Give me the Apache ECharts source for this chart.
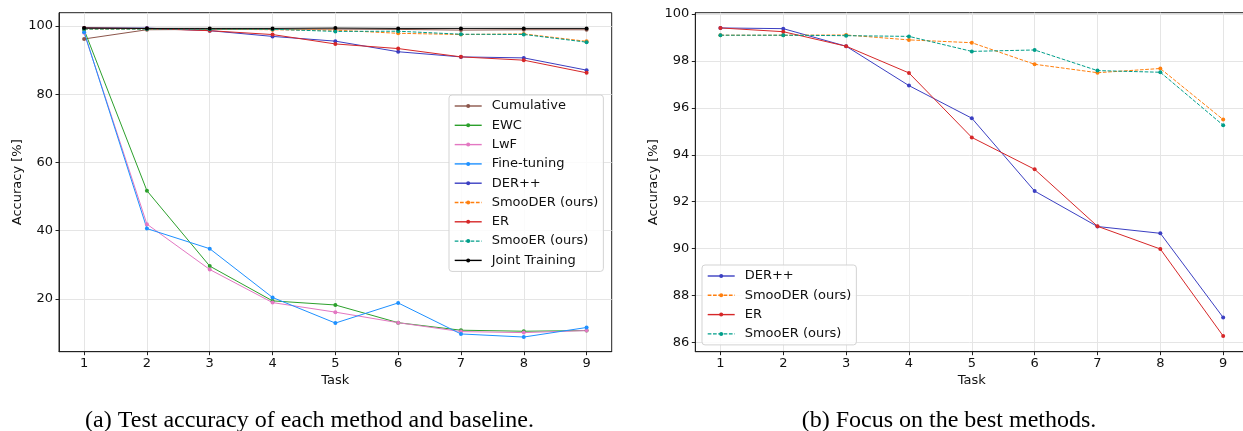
<!DOCTYPE html>
<html>
<head>
<meta charset="utf-8">
<script src="https://cdn.jsdelivr.net/npm/echarts@6/dist/echarts.min.js"></script>
<style>html,body{margin:0;padding:0;background:#fff;}#c{width:1243px;height:431px;}</style>
</head>
<body>
<div id="c"></div>
<script>
const tasks = [1, 2, 3, 4, 5, 6, 7, 8, 9];
const cumulative = [96.2, 98.9, 99.0, 99.0, 99.1, 99.0, 98.8, 98.9, 98.9];
const ewc = [98.9, 51.7, 29.6, 19.4, 18.2, 13.0, 10.8, 10.5, 10.7];
const lwf = [98.0, 41.9, 28.6, 18.9, 16.1, 13.0, 10.4, 10.1, 10.7];
const fineTuning = [98.2, 40.6, 34.7, 20.4, 12.9, 18.8, 9.7, 8.8, 11.6];
const derpp = [99.41, 99.38, 98.63, 96.95, 95.56, 92.45, 90.94, 90.65, 87.06];
const smooder = [99.10, 99.10, 99.11, 98.90, 98.78, 97.86, 97.50, 97.68, 95.50];
const er = [99.41, 99.25, 98.63, 97.49, 94.74, 93.38, 90.95, 89.98, 86.27];
const smooer = [99.10, 99.10, 99.08, 99.05, 98.41, 98.47, 97.59, 97.52, 95.26];
const joint = [99.4, 99.3, 99.3, 99.3, 99.4, 99.3, 99.3, 99.3, 99.3];

const leftYTicks = [20, 40, 60, 80, 100];
const rightYTicks = [86, 88, 90, 92, 94, 96, 98, 100];
const xTicks = tasks;

const colors = {
  'Cumulative': '#8c564b',
  'EWC': '#2ca02c',
  'LwF': '#e377c2',
  'Fine-tuning': '#1e90ff',
  'DER++': '#3b3fc2',
  'SmooDER (ours)': '#ff7f0e',
  'ER': '#d62728',
  'SmooER (ours)': '#009e8a',
  'Joint Training': '#000000'
};
const dashed = { 'SmooDER (ours)': true, 'SmooER (ours)': true };

const FONT = 'DejaVu Sans';
const AX = '#222';

function pts(arr) { return tasks.map((t, i) => [t, arr[i]]); }

function mkSeries(name, arr, idx) {
  return {
    type: 'line', name: name, xAxisIndex: idx, yAxisIndex: idx,
    data: pts(arr), symbol: 'circle', symbolSize: 4, showSymbol: true,
    itemStyle: { color: colors[name] },
    lineStyle: { color: colors[name], width: 1, type: dashed[name] ? [3.7, 1.6] : 'solid' },
    emphasis: { disabled: true }, z: 3
  };
}

function xAxisCfg(idx) {
  return {
    type: 'value', gridIndex: idx, min: 0.6, max: 9.4,
    name: 'Task', nameLocation: 'middle', nameGap: 20,
    nameTextStyle: { fontFamily: FONT, fontSize: 13, color: '#111' },
    axisLine: { show: true, onZero: false, lineStyle: { color: AX, width: 1 } },
    axisTick: { show: true, length: 3.5, customValues: xTicks, lineStyle: { color: AX } },
    axisLabel: { customValues: xTicks, margin: 5, fontFamily: FONT, fontSize: 13, color: '#111' },
    splitLine: { show: true, lineStyle: { color: '#e5e5e5', width: 1 } }
  };
}
function yAxisCfg(idx, min, max, ticks) {
  return {
    type: 'value', gridIndex: idx, min: min, max: max,
    name: 'Accuracy [%]', nameLocation: 'middle', nameGap: 34,
    nameTextStyle: { fontFamily: FONT, fontSize: 13, color: '#111' },
    axisLine: { show: true, onZero: false, lineStyle: { color: AX, width: 1 } },
    axisTick: { show: true, length: 3.5, customValues: ticks, lineStyle: { color: AX } },
    axisLabel: { customValues: ticks, margin: 6, fontFamily: FONT, fontSize: 13, color: '#111' },
    splitLine: { show: true, lineStyle: { color: '#e5e5e5', width: 1 } }
  };
}

const leftNames = ['Cumulative', 'EWC', 'LwF', 'Fine-tuning', 'DER++', 'SmooDER (ours)', 'ER', 'SmooER (ours)', 'Joint Training'];
const leftData = [cumulative, ewc, lwf, fineTuning, derpp, smooder, er, smooer, joint];
const rightNames = ['DER++', 'SmooDER (ours)', 'ER', 'SmooER (ours)'];
const rightData = [derpp, smooder, er, smooer];

const series = [];
leftNames.forEach((n, i) => series.push(mkSeries(n, leftData[i], 0)));
rightNames.forEach((n, i) => series.push(mkSeries(n, rightData[i], 1)));

function legendCfg(names, left, top) {
  return {
    orient: 'vertical', left: left, top: top, data: names,
    itemWidth: 27, itemHeight: 5, itemGap: 6.3,
    padding: [4.5, 5, 4.5, 5],
    borderColor: '#d3d3d3', borderWidth: 1, borderRadius: 3,
    backgroundColor: 'rgba(255,255,255,0.85)',
    textStyle: { fontFamily: FONT, fontSize: 13, color: '#111', padding: [0, 0, 0, 5] },
    lineStyle: { width: 1.4 },
    selectedMode: false, z: 10
  };
}

const chart = echarts.init(document.getElementById('c'), null, { renderer: 'canvas' });
chart.setOption({
  animation: false,
  backgroundColor: '#fff',
  grid: [
    { left: 59, top: 12.7, width: 552.7, height: 339, show: true, borderColor: AX, borderWidth: 1, backgroundColor: 'transparent', containLabel: false, outerBoundsMode: 'none' },
    { left: 695.3, top: 12.7, width: 553, height: 339, show: true, borderColor: AX, borderWidth: 1, backgroundColor: 'transparent', containLabel: false, outerBoundsMode: 'none' }
  ],
  xAxis: [xAxisCfg(0), xAxisCfg(1)],
  yAxis: [yAxisCfg(0, 4.5, 103.9, leftYTicks), yAxisCfg(1, 85.6, 100.06, rightYTicks)],
  legend: [legendCfg(leftNames, 449, 95), legendCfg(rightNames, 702, 265)],
  series: series,
  graphic: [
    { type: 'text', x: 309.5, y: 421, style: { text: '(a) Test accuracy of each method and baseline.', fontFamily: 'Liberation Serif', fontSize: 24, fill: '#000', textAlign: 'center', textVerticalAlign: 'middle' } },
    { type: 'text', x: 949, y: 421, style: { text: '(b) Focus on the best methods.', fontFamily: 'Liberation Serif', fontSize: 24, fill: '#000', textAlign: 'center', textVerticalAlign: 'middle' } }
  ]
});
</script>
</body>
</html>
